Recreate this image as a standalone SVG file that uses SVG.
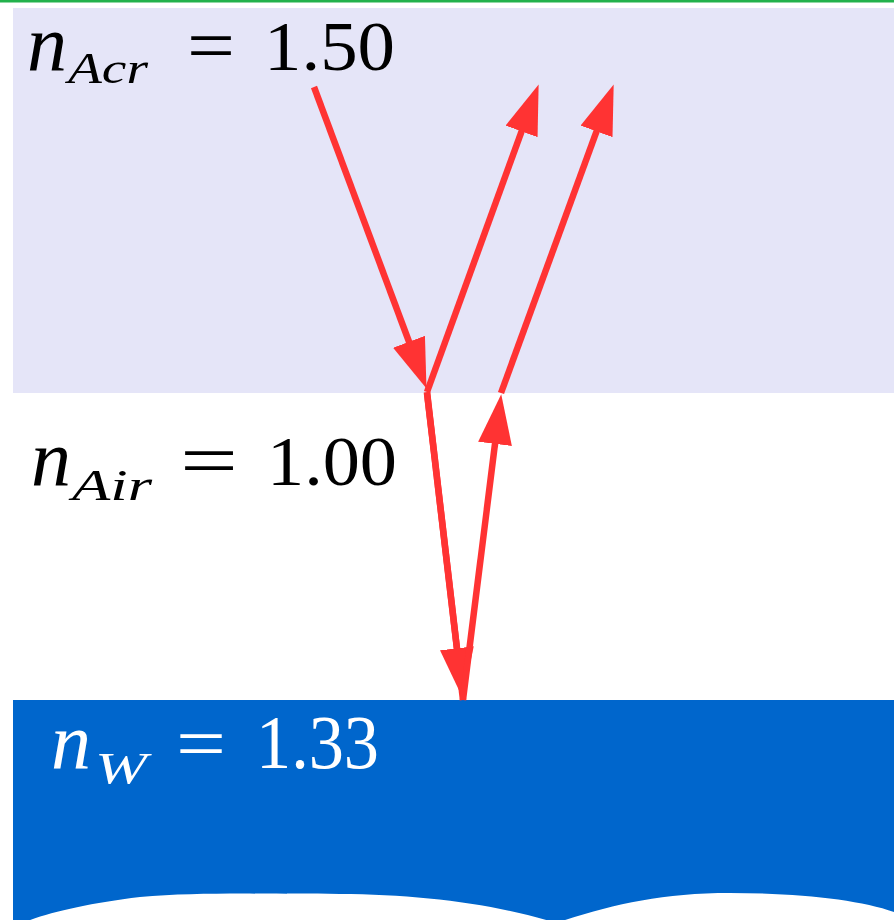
<svg xmlns="http://www.w3.org/2000/svg" width="894" height="920" viewBox="0 0 894 920">
<style>
.lbl{font-family:"Liberation Serif","Times New Roman",serif;fill:#000}
.n{font-style:italic;font-size:80px}
.sub{font-style:italic;font-size:44px}
.eq{font-size:74px}
.num{font-size:70px}
.white{fill:#fff}
.ray{stroke:#ff3333;stroke-width:6.5;fill:none;stroke-linecap:butt}
.arr{stroke:#ff3333;stroke-width:6.5;fill:none;marker-end:url(#ah)}
</style>
<defs>
<marker id="ah" viewBox="0 0 50 34" refX="20" refY="17" markerWidth="50" markerHeight="34" markerUnits="userSpaceOnUse" orient="auto">
<path d="M0,0 L50,17 L0,34 Z" fill="#ff3333"/>
</marker>
</defs>
<rect x="0" y="0" width="894" height="920" fill="#fff"/>
<rect x="0" y="0" width="894" height="2.5" fill="#22b14c"/>
<g id="acrylic">
<rect x="13" y="8" width="881" height="385" fill="#e5e5f8"/>
<text class="lbl" y="70"><tspan class="n" x="27">n</tspan><tspan class="sub" x="68" y="83" textLength="80" lengthAdjust="spacingAndGlyphs">Acr</tspan><tspan class="eq" x="187" y="70" textLength="48" lengthAdjust="spacingAndGlyphs">=</tspan><tspan class="num" x="264" textLength="131" lengthAdjust="spacingAndGlyphs">1.50</tspan></text>
</g>
<g id="air">
<text class="lbl" y="485"><tspan class="n" x="31">n</tspan><tspan class="sub" x="72" y="500" textLength="80" lengthAdjust="spacingAndGlyphs">Air</tspan><tspan class="eq" x="180" y="485" textLength="58" lengthAdjust="spacingAndGlyphs">=</tspan><tspan class="num" x="267" textLength="130" lengthAdjust="spacingAndGlyphs">1.00</tspan></text>
</g>
<g id="water">
<path d="M13,700 H894 V912 C860,900 800,893 730,893 C660,893 610,905 556,923 C500,905 420,894 340,894 C260,894 200,892 140,897 C90,903 50,912 25,922 H13 Z" fill="#0066cc"/>
<text class="lbl white" y="768"><tspan class="n" x="51">n</tspan><tspan class="sub" x="95" y="783" textLength="52" lengthAdjust="spacingAndGlyphs">W</tspan><tspan class="eq" x="176" y="768" textLength="50" lengthAdjust="spacingAndGlyphs">=</tspan><tspan class="num" x="256" style="font-size:77px" textLength="123" lengthAdjust="spacingAndGlyphs">1.33</tspan></text>
</g>
<g id="connectors">
<line class="arr" x1="314" y1="87" x2="416" y2="360.5"/>
<line class="arr" x1="427" y1="392" x2="528.4" y2="112.6"/>
<line class="ray" x1="427" y1="392" x2="463" y2="700"/>
<line class="arr" x1="427" y1="393" x2="459.2" y2="668.2"/>
<line class="arr" x1="463" y1="700" x2="497.5" y2="424"/>
<line class="arr" x1="501" y1="393" x2="603.4" y2="112.6"/>
</g>
</svg>
